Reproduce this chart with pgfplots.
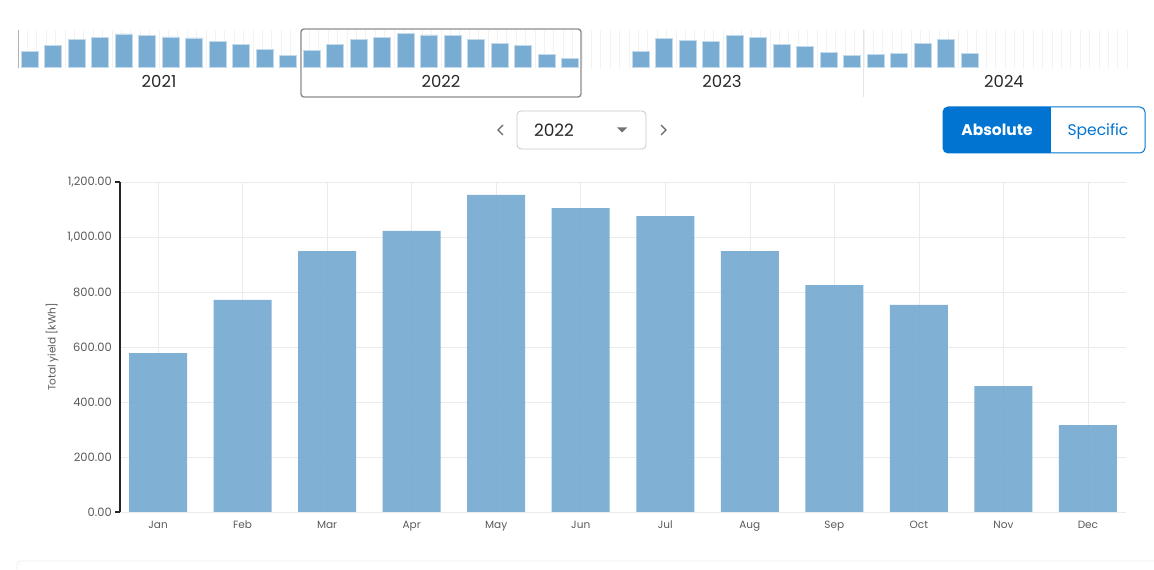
\documentclass[border=0pt]{standalone}
\usepackage{pgfplots}
\pgfplotsset{compat=1.18}
\usepackage{fontspec}
\setmainfont{Poppins}
\definecolor{barc}{RGB}{121,172,210}
\definecolor{btn}{RGB}{0,116,208}
\definecolor{txt}{RGB}{40,40,40}
\definecolor{tickc}{RGB}{90,90,90}
\begin{document}
\begin{tikzpicture}[x=1pt,y=1pt]
\path[use as bounding box] (0,0) rectangle (1154,570);

% ---------- navigator ----------
\begin{axis}[at={(18pt,502.3pt)}, anchor=south west, scale only axis,
  width=1110pt, height=37.7pt, xmin=-0.5, xmax=46.74, ymin=0, ymax=1265,
  axis line style={draw=none}, ytick=\empty,
  xtick={-0.5,-0.1,...,46.7}, xticklabels={}, major tick length=0pt,
  xmajorgrids, grid style={black!5, line width=0.6pt}, clip=false]
\addplot[ybar, bar width=17pt, fill=barc, draw=white!55!barc, line width=0.5pt] coordinates {
(0,537) (1,738) (2,953) (3,1007) (4,1131) (5,1097) (6,1030) (7,997) (8,886) (9,785) (10,617) (11,416)
(12,584) (13,771) (14,949) (15,1022) (16,1153) (17,1105) (18,1076) (19,949) (20,825) (21,753) (22,458) (23,316)
(26,537) (27,987) (28,919) (29,872) (30,1097) (31,1007) (32,772) (33,718) (34,517) (35,416)
(36,436) (37,493) (38,819) (39,940) (40,493)
};
\end{axis}
\draw[black!30, line width=0.8pt] (18,540) -- (18,502.3);
\draw[black!10, line width=0.8pt] (863,540) -- (863,473);
\draw[black!45, line width=1.4pt, rounded corners=3pt] (301,541) rectangle (581,473);
\begin{scope}[font=\fontsize{16.5}{18}\selectfont, text=txt]
\node at (159,489) {2021};
\node at (441,489) {2022};
\node at (722,489) {2023};
\node at (1004,489) {2024};
\end{scope}

% ---------- year selector ----------
\draw[black!60, line width=1.2pt] (503,445) -- (498,440) -- (503,435);
\draw[black!60, line width=1.2pt] (661,445) -- (666,440) -- (661,435);
\draw[black!22, line width=0.8pt, rounded corners=4pt] (517,459) rectangle (646,421);
\node[text=txt, font=\fontsize{17}{19}\selectfont] at (554,440) {2022};
\fill[black!55] (617,442.5) -- (627,442.5) -- (622,437.5) -- cycle;

% ---------- toggle ----------
\begin{scope}
\clip[rounded corners=5pt] (943,463) rectangle (1145,417);
\fill[btn] (943,463) rectangle (1051,417);
\end{scope}
\draw[btn, line width=1pt, rounded corners=5pt] (943,463) rectangle (1145,417);
\node[anchor=base, text=white, font=\bfseries\fontsize{15.5}{17}\selectfont] at (997,434.5) {Absolute};
\node[anchor=base, text=btn, font=\fontsize{15.5}{17}\selectfont] at (1098,434.5) {Specific};

% ---------- main chart ----------
\begin{axis}[at={(120pt,58pt)}, anchor=south west, scale only axis,
  width=1006pt, height=330pt, xmin=-0.45, xmax=11.45, ymin=0, ymax=1200,
  ytick={0,200,...,1200}, xtick={0,...,11},
  xticklabels={Jan,Feb,Mar,Apr,May,Jun,Jul,Aug,Sep,Oct,Nov,Dec},
  axis x line*=bottom, axis y line*=left,
  x axis line style={draw=none},
  y axis line style={draw=black!85, line width=1.1pt, -},
  major tick length=0pt,
  grid=major, grid style={black!8, line width=0.6pt},
  scaled y ticks=false,
  yticklabel style={font=\fontsize{11.5}{13}\selectfont, text=tickc, inner sep=0pt, xshift=-8pt,
    /pgf/number format/.cd, fixed, fixed zerofill, precision=2, 1000 sep={,}, assume math mode=true},
  xticklabel style={font=\fontsize{10.5}{12}\selectfont, text=tickc, inner sep=0pt, yshift=-9pt},
  extra y ticks={0,1200}, extra y tick labels={},
  extra y tick style={grid=none, major tick length=5pt, tick align=outside,
    tick style={draw=black!85, line width=1.1pt}}]
\addplot[ybar, bar width=58pt, fill=barc, fill opacity=0.95, draw=none] coordinates {
(0,578) (1,771) (2,949) (3,1022) (4,1153) (5,1105) (6,1076) (7,949) (8,825) (9,753) (10,458) (11,316)
};
\end{axis}
\node[rotate=90, text=tickc, font=\fontsize{10.5}{12}\selectfont] at (52,223) {Total yield [kWh]};

% ---------- bottom panel edge ----------
\draw[black!7, line width=0.8pt] (17,0) -- (17,5) arc[start angle=180, end angle=90, radius=4] -- (1154,9);
\end{tikzpicture}
\end{document}
